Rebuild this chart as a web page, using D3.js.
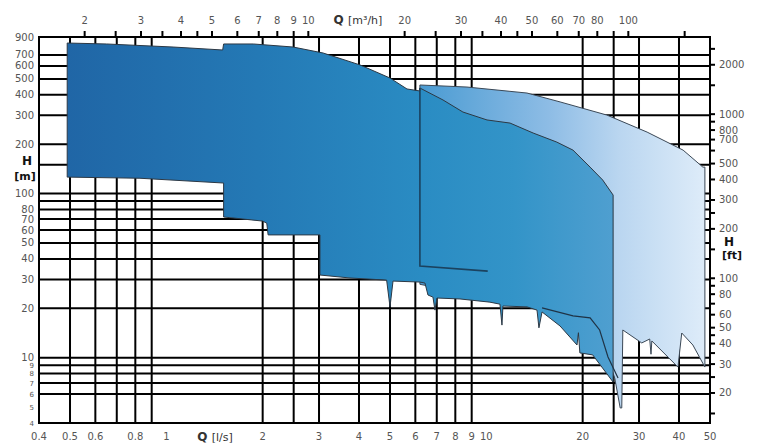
<!DOCTYPE html>
<html><head><meta charset="utf-8">
<script src="https://cdn.jsdelivr.net/npm/d3@7"></script>
<style>body{margin:0;background:#fff;} svg{display:block;}</style>
</head><body><svg id="c" width="761" height="443"></svg>
<script>
// ---- axis data ----
const qLsLabels = [0.4,0.5,0.6,0.8,1,2,3,4,5,6,7,8,9,10,20,30,40,50];
const qLsGrid = [0.5,0.6,0.7,0.8,0.9,2,2.5,3,4,5,6,7,8,9,20,25,30,40];
const qM3hLabels = [2,3,4,5,6,7,8,9,10,20,30,40,50,60,70,80,100];
const qM3hTicks = [2,2.5,3,3.5,4,4.5,5,6,7,8,9,10,20,25,30,35,40,45,50,60,70,80,90,100,150];
const hMLabels = [900,700,600,500,400,300,200,100,80,70,60,50,40,30,20,10,9,8,7,6,5,4];
const hMGrid = [700,600,500,400,300,200,150,100,90,80,70,60,50,40,30,20,10,9,8,7,6];
const hFtLabels = [2000,1000,800,700,500,400,300,200,100,80,60,50,40,30,20];
const hFtTicks = [2500,2000,1500,1000,900,800,700,600,500,400,300,250,200,150,100,90,80,70,60,50,45,40,35,30,25,20,15];

// ---- performance envelopes (Q in l/s, H in m) ----
const mainQ = [0.49,0.65,1.05,1.5,1.51,1.87,2.49,3.09,4.03,5.0,5.65,6.2,6.2,7.32,8.45,10.05,11.86,14.0,16.6,18.66,21.1,23.1,24.9,
  24.9,21.5,19.6,19.4,19.2,17.0,14.93,14.6,14.4,13.4,11.27,11.19,11.03,10.26,8.27,7.01,6.91,6.81,6.57,6.43,6.2,5.11,5.0,4.88,3.75,3.02,3.02,2.08,2.06,2.0,1.51,1.51,0.827,0.49];
const mainH = [827,816,782,750,816,816,782,719,608,506,434,422,440,372,314,281,269,234,206,184,145,121,98,
  7.1,10.4,10.7,14.2,11.95,15.6,19.0,15.2,19.5,20.4,20.65,15.8,21.2,21.8,22.8,23.1,19.5,23.4,24.1,28.5,28.9,29.3,20.4,29.7,30.6,31.9,56,56,66,68,72,116,124,126];

const lightQ = [6.2,8.7,13.4,17.0,23.8,31.8,41.2,47.5,48.2,48.2,44.2,40.8,39.7,32.9,32.7,32.4,30.6,26.7,26.5,26.2,25.2,24.0,15,6.2];
const lightH = [459,446,410,362,301,237,184,145,145,8.77,11.95,14.14,8.77,12.65,10.5,13.0,12.3,14.75,4.94,4.94,7.5,10.0,20,28];

const innerQ = [14.93,18.66,21.1,22.6,24.0,25.8];
const innerH = [20.1,18.0,17.5,14.75,10.1,7.52];

const boxQ = [6.2,6.2,10.1];
const boxH = [440,36.2,33.7];

// ---- scales ----
const x = d3.scaleLog().domain([0.4,50]).range([39,710]);
const y = d3.scaleLog().domain([900,4]).range([37,423]);
const yFt = d3.scaleLog().domain([900/0.3048,4/0.3048]).range([37,423]);
const xM3h = v => x(v/3.6);

const svg = d3.select('#c');
const font = 'DejaVu Sans, Arial, sans-serif';

// gradients
const defs = svg.append('defs');
const g1 = defs.append('linearGradient').attr('id','gMain').attr('gradientUnits','userSpaceOnUse')
  .attr('x1',x(0.49)).attr('x2',x(24.9)).attr('y1',0).attr('y2',0);
[[0,'#2066a6'],[0.35,'#2479b5'],[0.65,'#2a8cc3'],[0.82,'#3394c8'],[1,'#4f9fd0']].forEach(s=>g1.append('stop').attr('offset',s[0]).attr('stop-color',s[1]));
const g2 = defs.append('linearGradient').attr('id','gLight').attr('gradientUnits','userSpaceOnUse')
  .attr('x1',x(6.2)).attr('x2',x(48.2)).attr('y1',0).attr('y2',0);
[[0,'#4a9bd2'],[0.45,'#8dbce5'],[0.7,'#bad6f0'],[1,'#deecf9']].forEach(s=>g2.append('stop').attr('offset',s[0]).attr('stop-color',s[1]));

// grid
const grid = svg.append('g').attr('stroke','#000').attr('stroke-width',2);
grid.selectAll('.v').data(qLsGrid).enter().append('line')
  .attr('x1',d=>x(d)).attr('x2',d=>x(d)).attr('y1',y(900)).attr('y2',y(4));
grid.selectAll('.h').data(hMGrid).enter().append('line')
  .attr('x1',x(0.4)).attr('x2',x(50)).attr('y1',d=>y(d)).attr('y2',d=>y(d));

// envelopes
const line = d3.line().x(d=>x(d[0])).y(d=>y(d[1]));
const zip = (a,b)=>a.map((v,i)=>[v,b[i]]);
svg.append('path').attr('d',line(zip(lightQ,lightH))+'Z').attr('fill','url(#gLight)')
  .attr('stroke','#3b4856').attr('stroke-width',1).attr('stroke-linejoin','round');
svg.append('path').attr('d',line(zip(mainQ,mainH))+'Z').attr('fill','url(#gMain)')
  .attr('stroke','#2c3844').attr('stroke-width',1).attr('stroke-linejoin','round');
svg.append('path').attr('d',line(zip(innerQ,innerH))).attr('fill','none')
  .attr('stroke','#1f3346').attr('stroke-width',1.2);
svg.append('path').attr('d',line(zip(boxQ,boxH))).attr('fill','none')
  .attr('stroke','#1b425f').attr('stroke-width',1.6);

// frame
const fr = svg.append('g').attr('stroke','#000').attr('stroke-width',2).attr('fill','none');
fr.append('rect').attr('x',x(0.4)).attr('y',y(900)).attr('width',x(50)-x(0.4)).attr('height',y(4)-y(900));

// top ticks
fr.selectAll('.tt').data(qM3hTicks).enter().append('line')
  .attr('x1',d=>xM3h(d)).attr('x2',d=>xM3h(d)).attr('y1',y(900)).attr('y2',y(900)-6);
// right ticks
fr.selectAll('.rt').data(hFtTicks).enter().append('line')
  .attr('x1',x(50)).attr('x2',x(50)+5).attr('y1',d=>yFt(d)).attr('y2',d=>yFt(d));

// labels
const lab = svg.append('g').attr('font-family',font).attr('font-size',10).attr('fill','#555');
lab.selectAll('.bl').data(qLsLabels).enter().append('text')
  .attr('x',d=>x(d)).attr('y',440).attr('text-anchor','middle').text(d=>d);
lab.selectAll('.tl').data(qM3hLabels).enter().append('text')
  .attr('x',d=>xM3h(d)).attr('y',24).attr('text-anchor','middle').text(d=>d);
lab.selectAll('.ll').data(hMLabels).enter().append('text')
  .attr('x',34).attr('y',d=>y(d)+(d<10?2.5:3.5)).attr('text-anchor','end')
  .attr('font-size',d=>d<10?7:10).text(d=>d);
lab.selectAll('.rl').data(hFtLabels).enter().append('text')
  .attr('x',719).attr('y',d=>yFt(d)+3.5).attr('text-anchor','start').text(d=>d);

// axis titles
const tt = svg.append('g').attr('font-family',font).attr('font-weight','bold').attr('fill','#111');
tt.append('text').attr('x',27).attr('y',165).attr('text-anchor','middle').attr('font-size',12).text('H');
tt.append('text').attr('x',25).attr('y',180).attr('text-anchor','middle').attr('font-size',11).text('[m]');
tt.append('text').attr('x',724).attr('y',246).attr('text-anchor','start').attr('font-size',12).text('H');
tt.append('text').attr('x',722).attr('y',259).attr('text-anchor','start').attr('font-size',11).text('[ft]');
const ql = svg.append('text').attr('x',215).attr('y',441).attr('text-anchor','middle').attr('font-family',font).attr('font-size',11).attr('fill','#333');
ql.append('tspan').attr('font-weight','bold').attr('font-size',12).text('Q ');
ql.append('tspan').text('[l/s]');
const qm = svg.append('text').attr('x',358).attr('y',24).attr('text-anchor','middle').attr('font-family',font).attr('font-size',11).attr('fill','#333');
qm.append('tspan').attr('font-weight','bold').attr('font-size',12).text('Q ');
qm.append('tspan').text('[m³/h]');
</script></body></html>
